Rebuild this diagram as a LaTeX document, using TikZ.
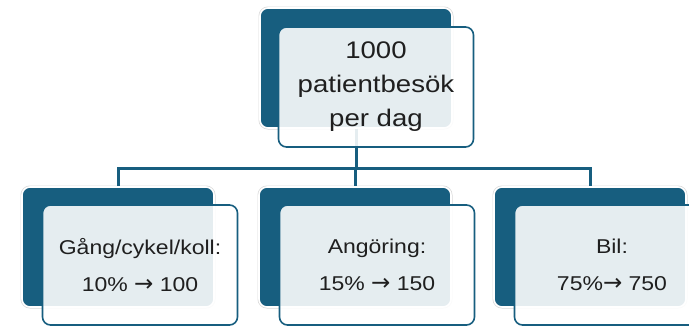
\documentclass[tikz,border=0pt]{standalone}
\usepackage{fontspec}
\setmainfont{Liberation Sans}[FakeStretch=1.15]
\newfontfamily\arrowfont{DejaVu Sans}
\newcommand{\rarr}{{\arrowfont\fontsize{23}{23}\selectfont →}}
\definecolor{dkblue}{HTML}{175E7F}
\begin{document}
\begin{tikzpicture}[x=1pt,y=-1pt,
  back/.style={preaction={draw=black!15, line width=3pt}, draw=white, line width=1.6pt,
    fill=dkblue, rounded corners=8pt,
    minimum width=192pt, minimum height=120pt, inner sep=0pt},
  front/.style={draw=dkblue, line width=1.6pt, fill=white, fill opacity=0.89, text opacity=1,
    rounded corners=8pt, minimum width=195pt, minimum height=120pt, inner sep=0pt,
    align=center, text=black!88},
  conn/.style={draw=dkblue, line width=3pt},
  toptext/.style={font=\fontsize{24}{34}\selectfont},
  bottext/.style={font=\fontsize{20}{37}\selectfont}]
\useasboundingbox (0,0) rectangle (689,327);
% back boxes
\node[back] (tdark) at (356,68) {};
\node[back] (b1dark) at (118,247) {};
\node[back] (b2dark) at (355,247) {};
\node[back] (b3dark) at (590,247) {};
% connectors
\draw[conn] (tdark.south) -- ++(0,40) -| (b1dark.north);
\draw[conn] (tdark.south) -- ++(0,40) -| (b2dark.north);
\draw[conn] (tdark.south) -- ++(0,40) -| (b3dark.north);
% front boxes
\node[front, toptext] (top) at (376,87) {1000\\patientbesök\\per dag};
\node[front, bottext] (b1) at (140,265) {Gång/cykel/koll:\\10\% \rarr{} 100};
\node[front, bottext] (b2) at (377,265) {Angöring:\\15\% \rarr{} 150};
\node[front, bottext] (b3) at (612,265) {Bil:\\75\%\rarr{} 750};
\end{tikzpicture}
\end{document}
